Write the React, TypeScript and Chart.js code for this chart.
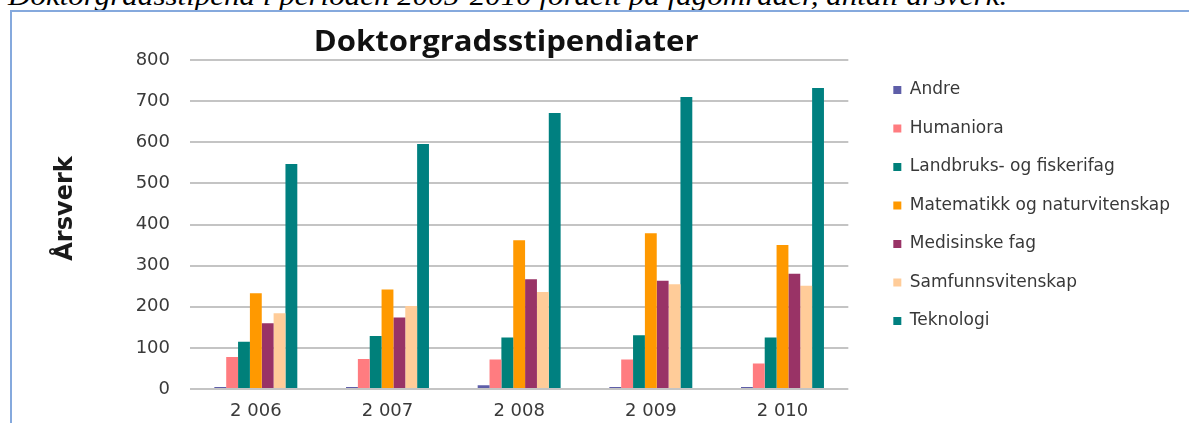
import React, { useEffect, useRef } from 'react';
import { Chart, registerables } from 'chart.js';

Chart.register(...registerables);

const caption = 'Doktorgradsstipend i perioden 2005-2010 fordelt på fagområder, antall årsverk.';
const chartTitle = 'Doktorgradsstipendiater';
const yAxisTitle = 'Årsverk';

const categories = ['2 006', '2 007', '2 008', '2 009', '2 010'];

const andre = [5, 5, 9, 5, 5];
const humaniora = [78, 73, 72, 72, 62];
const landbruk = [115, 129, 125, 131, 125];
const matematikk = [233, 242, 362, 379, 350];
const medisin = [160, 174, 267, 263, 280];
const samfunn = [184, 202, 236, 255, 251];
const teknologi = [547, 596, 671, 710, 732];

const seriesNames = [
  'Andre',
  'Humaniora',
  'Landbruks- og fiskerifag',
  'Matematikk og naturvitenskap',
  'Medisinske fag',
  'Samfunnsvitenskap',
  'Teknologi',
];
const seriesValues = [andre, humaniora, landbruk, matematikk, medisin, samfunn, teknologi];
const seriesColors = ['#5E5EA8', '#FF7C80', '#00807A', '#FF9900', '#993366', '#FFCC99', '#008080'];

const yMin = 0;
const yMax = 800;
const yStep = 100;

const textPlugin = {
  id: 'extraText',
  afterDraw(chart: any) {
    const { ctx, chartArea } = chart;
    ctx.save();
    ctx.fillStyle = '#111111';
    ctx.font = '700 28px "Open Sans"';
    ctx.textAlign = 'center';
    ctx.textBaseline = 'alphabetic';
    ctx.translate((chartArea.left + chartArea.right) / 2 - 13, chartArea.top - 9);
    ctx.scale(1.11, 1);
    ctx.fillText(chartTitle, 0, 0);
    ctx.restore();

    ctx.save();
    ctx.translate(60, (chartArea.top + chartArea.bottom) / 2 - 16);
    ctx.rotate(-Math.PI / 2);
    ctx.textAlign = 'center';
    ctx.textBaseline = 'alphabetic';
    ctx.font = 'bold 24px "DejaVu Sans"';
    ctx.fillStyle = '#1a1a1a';
    ctx.fillText(yAxisTitle, 0, 0);
    ctx.restore();
  },
};

export default function App() {
  const canvasRef = useRef<HTMLCanvasElement | null>(null);

  useEffect(() => {
    if (!canvasRef.current) return;
    const chart = new Chart(canvasRef.current, {
      type: 'bar',
      data: {
        labels: categories,
        datasets: seriesNames.map((name, i) => ({
          label: name,
          data: seriesValues[i],
          backgroundColor: seriesColors[i],
          borderWidth: 0,
          categoryPercentage: 0.63,
          barPercentage: 1,
        })),
      },
      options: {
        animation: false,
        responsive: false,
        devicePixelRatio: 1,
        layout: { padding: { top: 48, left: 0, right: 9, bottom: 0 } },
        plugins: {
          title: { display: false },
          tooltip: { enabled: false },
          legend: {
            display: true,
            position: 'right',
            align: 'start',
            fullSize: false,
            maxWidth: 420,
            labels: {
              boxWidth: 8,
              boxHeight: 8,
              padding: 21.5,
              color: '#383838',
              font: { family: '"DejaVu Sans"', size: 17 },
            },
          },
        },
        scales: {
          x: {
            grid: { display: false, drawTicks: false },
            border: { display: false },
            ticks: {
              color: '#3a3a3a',
              padding: 12,
              font: { family: '"DejaVu Sans"', size: 18 },
            },
            afterFit: (s: any) => {
              s.height = 34;
            },
          },
          y: {
            min: yMin,
            max: yMax,
            grid: { color: '#C4C4C4', lineWidth: 2, drawTicks: false },
            border: { display: false },
            ticks: {
              stepSize: yStep,
              color: '#3a3a3a',
              padding: 20,
              font: { family: '"DejaVu Sans"', size: 18 },
            },
            afterFit: (s: any) => {
              s.width = 178;
            },
          },
          y2: {
            type: 'linear',
            position: 'right',
            display: true,
            grid: { display: false },
            border: { display: false },
            ticks: { display: false },
            afterFit: (s: any) => {
              s.width = 23.5;
            },
          },
        },
      },
      plugins: [textPlugin],
    } as any);
    return () => chart.destroy();
  }, []);

  return (
    <div
      style={{
        position: 'fixed',
        left: 0,
        top: 0,
        width: 1189,
        height: 423,
        overflow: 'hidden',
        background: '#ffffff',
      }}
    >
      <div
        style={{
          position: 'absolute',
          left: 8,
          top: -15,
          fontFamily: '"Liberation Serif", "Times New Roman", serif',
          fontStyle: 'italic',
          fontSize: 26.3,
          lineHeight: '24px',
          whiteSpace: 'nowrap',
          transform: 'scaleX(1.18)',
          transformOrigin: 'left top',
          color: '#000',
        }}
      >
        {caption}
      </div>
      <div
        style={{
          position: 'absolute',
          left: 10,
          top: 10,
          width: 1200,
          height: 430,
          borderTop: '2px solid #85A9DD',
          borderLeft: '2px solid #85A9DD',
        }}
      />
      <canvas
        ref={canvasRef}
        width={1177}
        height={411}
        style={{ position: 'absolute', left: 12, top: 12, display: 'block' }}
      />
    </div>
  );
}
